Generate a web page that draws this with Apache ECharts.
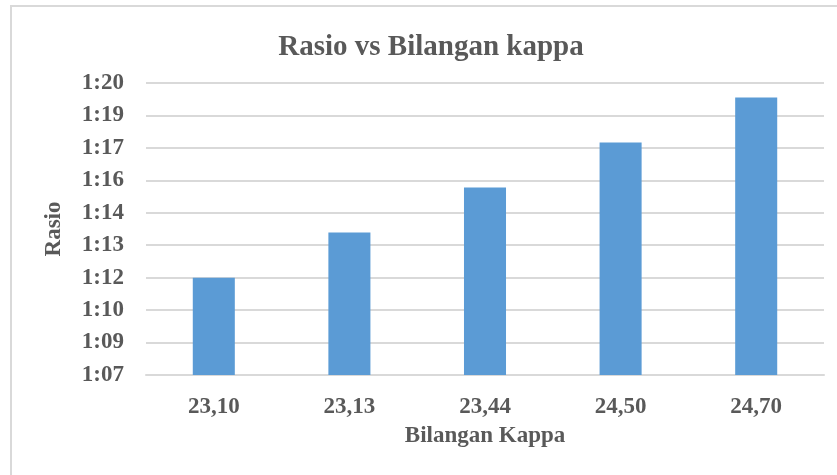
<!DOCTYPE html>
<html>
<head>
<meta charset="utf-8">
<title>Rasio vs Bilangan kappa</title>
<script src="https://cdn.jsdelivr.net/npm/echarts@6/dist/echarts.min.js"></script>
<style>
    html, body { margin: 0; padding: 0; background: #fff; }
    #chart { width: 837px; height: 475px; }
    #frame {
        position: absolute; left: 10px; top: 5px; width: 900px; height: 500px;
        border-left: 2px solid #d9d9d9; border-top: 2px solid #d9d9d9;
        pointer-events: none;
    }
</style>
</head>
<body>
<div id="chart"></div>
<div id="frame"></div>
<script>
(function () {
    'use strict';

    // Bilangan Kappa (categories)
    var kappa = ['23,10', '23,13', '23,44', '24,50', '24,70'];
    // rasio 1:x, x in minutes (Excel time format h:mm)
    var rasio = [72, 74, 76, 78, 80];
    // axis: 0.047 .. 0.056 day, step 0.001 day = 1.44 min
    var yStep = 1.44;
    var yMin = 47 * yStep;
    var yMax = 56 * yStep;

    var textColor = '#595959';
    var fontFamily = '"Liberation Serif", "Times New Roman", serif';

    var fmtTime = function (v) {
        var m = Math.floor(v + 1e-6);
        var h = Math.floor(m / 60);
        var mm = m % 60;
        return h + ':' + (mm < 10 ? '0' + mm : mm);
    };

    var chart = echarts.init(document.getElementById('chart'), null, { renderer: 'canvas' });

    chart.setOption({
        animation: false,
        textStyle: { fontFamily: fontFamily },
        title: {
            text: 'Rasio vs Bilangan kappa',
            left: 426,
            textAlign: 'center',
            top: 28,
            textStyle: {
                color: textColor,
                fontSize: 29,
                fontWeight: 'bold',
                fontFamily: fontFamily
            }
        },
        grid: {
            left: 146,
            right: 13,
            top: 83,
            bottom: 100
        },
        xAxis: {
            type: 'category',
            data: kappa,
            name: 'Bilangan Kappa',
            nameLocation: 'middle',
            nameGap: 50,
            nameTextStyle: {
                color: textColor,
                fontSize: 23,
                fontWeight: 'bold',
                fontFamily: fontFamily
            },
            axisLine: { show: true, lineStyle: { color: '#d9d9d9', width: 2 } },
            axisTick: { show: false },
            axisLabel: {
                color: textColor,
                fontSize: 23,
                fontWeight: 'bold',
                margin: 21
            }
        },
        yAxis: {
            type: 'value',
            min: yMin,
            max: yMax,
            interval: yStep,
            name: 'Rasio',
            nameLocation: 'middle',
            nameGap: 80,
            nameTextStyle: {
                color: textColor,
                fontSize: 23,
                fontWeight: 'bold',
                fontFamily: fontFamily
            },
            axisLine: { show: false },
            axisTick: { show: false },
            axisLabel: {
                color: textColor,
                fontSize: 23,
                fontWeight: 'bold',
                margin: 22,
                formatter: fmtTime
            },
            splitLine: { lineStyle: { color: '#d9d9d9', width: 2 } }
        },
        series: [{
            type: 'bar',
            data: rasio,
            barWidth: '31%',
            itemStyle: { color: '#5b9bd5' }
        }]
    });
}());
</script>
</body>
</html>
